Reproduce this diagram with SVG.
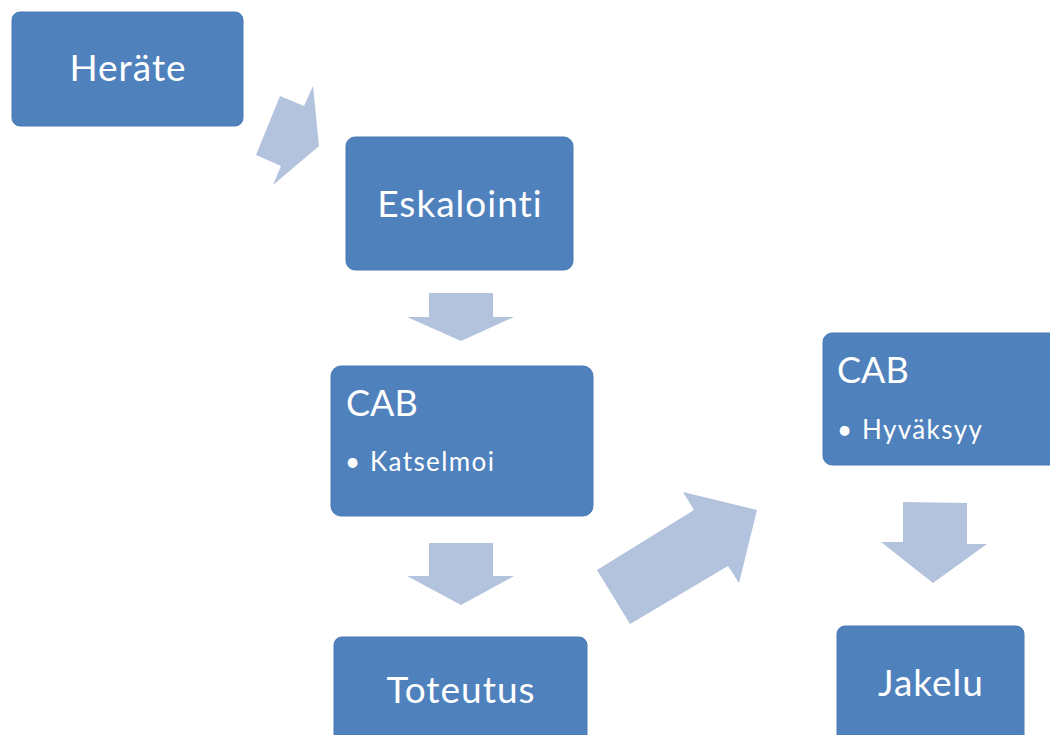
<svg xmlns="http://www.w3.org/2000/svg" width="1050" height="735" viewBox="0 0 1050 735">
<style>
.node{fill:#4f81bd;stroke:#4a7ab3;stroke-width:1}
.arr{fill:#b3c3de}
.t{font-family:Lato,"Open Sans",sans-serif;fill:#ffffff;font-variant-ligatures:none}
.big{font-size:37px;letter-spacing:1px}
.cab{font-size:36px}
.sub{font-size:26px;letter-spacing:1.4px}
</style>
<rect width="1050" height="735" fill="#ffffff"/>
<g id="connectors">
<polygon class="arr" points="280,96 304,106 313,86 319,146 273,185 281,166 256,155"/>
<polygon class="arr" points="429,293 493,293 493,317 514,317 461,341 407,317 429,317"/>
<polygon class="arr" points="429,543 493,543 493,576 514,576 461,605 407,576 429,576"/>
<polygon class="arr" points="597,570 694,510 683,492 757,510 739,583 728,566 630,624"/>
<polygon class="arr" points="903,502 967,503 967,544 987,544 933,583 881,542 903,542"/>
</g>
<g id="herate">
<rect class="node" x="12" y="12" width="231" height="114" rx="8"/>
<text class="t big" x="128" y="81" text-anchor="middle">Heräte</text>
</g>
<g id="eskalointi">
<rect class="node" x="346" y="137" width="227" height="133" rx="9"/>
<text class="t big" x="460" y="217" text-anchor="middle">Eskalointi</text>
</g>
<g id="cab1">
<rect class="node" x="331" y="366" width="262" height="150" rx="10"/>
<text class="t cab" x="346" y="416">CAB</text>
<text class="t sub" y="471"><tspan x="345">•</tspan><tspan x="370">Katselmoi</tspan></text>
</g>
<g id="cab2">
<rect class="node" x="823" y="333" width="235" height="132" rx="9"/>
<text class="t cab" x="837" y="383">CAB</text>
<text class="t sub" y="439"><tspan x="837">•</tspan><tspan x="862">Hyväksyy</tspan></text>
</g>
<g id="toteutus">
<rect class="node" x="334" y="637" width="253" height="120" rx="8"/>
<text class="t big" x="461" y="703" text-anchor="middle">Toteutus</text>
</g>
<g id="jakelu">
<rect class="node" x="837" y="626" width="187" height="130" rx="8"/>
<text class="t big" x="931" y="696" text-anchor="middle">Jakelu</text>
</g>
</svg>
